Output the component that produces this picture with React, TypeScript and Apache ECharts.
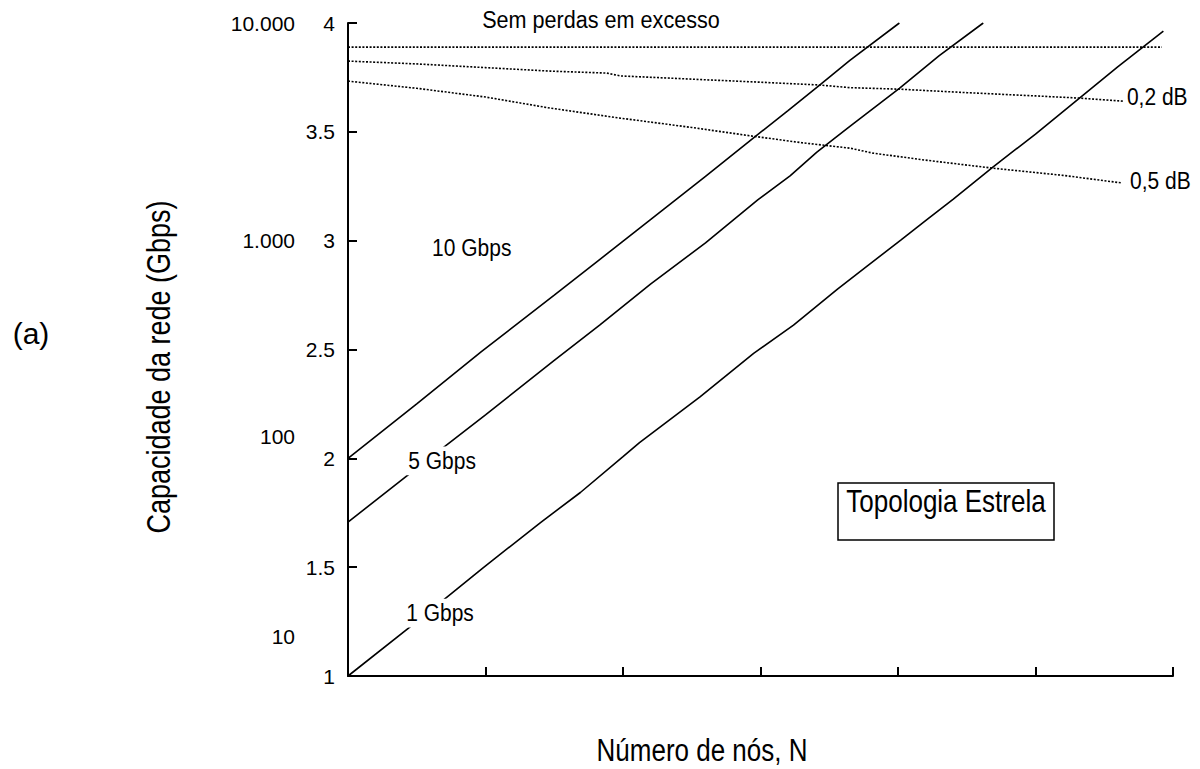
import React, { useEffect, useRef } from 'react';
import * as echarts from 'echarts';

const FONT = '"Liberation Sans", Arial, Helvetica, sans-serif';

// y axis: log10 of network capacity (Gbps); x axis: number of nodes (no labels)
const yTickValues = [1, 1.5, 2, 2.5, 3, 3.5, 4];
const logLabels = ['10.000', '1.000', '100', '10'];
const logLabelValues = [4, 3, 2.1, 1.18];

const gbps1X = [0, 0.5, 0.98, 1.4, 1.69, 2.0, 2.12, 2.56, 2.95, 3.24, 3.56, 3.78, 4.02, 4.21, 4.4, 4.69, 5.0, 5.32, 5.6, 5.93];
const gbps1Y = [1.0, 1.25, 1.496, 1.705, 1.843, 2.008, 2.072, 2.282, 2.482, 2.612, 2.777, 2.885, 3.003, 3.097, 3.19, 3.338, 3.49, 3.655, 3.8, 3.963];

const gbps5X = [0, 0.5, 1.0, 1.5, 1.83, 2.2, 2.6, 2.98, 3.215, 3.41, 3.65, 4.01, 4.3, 4.62];
const gbps5Y = [1.707, 1.955, 2.2, 2.45, 2.612, 2.8, 2.99, 3.187, 3.298, 3.407, 3.525, 3.7, 3.85, 4.0];

const gbps10X = [0, 0.5, 0.97, 1.5, 1.83, 2.2, 2.6, 2.945, 3.2, 3.43, 3.65, 4.01];
const gbps10Y = [2.0, 2.25, 2.49, 2.75, 2.913, 3.097, 3.295, 3.47, 3.598, 3.715, 3.828, 4.0];

const lossNoneX = [0, 5.92];
const lossNoneY = [3.889, 3.889];

const loss02X = [0, 0.5, 1.0, 1.47, 1.88, 1.98, 2.5, 3.0, 3.43, 3.65, 4.01, 4.5, 5.0, 5.32, 5.64];
const loss02Y = [3.825, 3.812, 3.795, 3.779, 3.77, 3.757, 3.742, 3.728, 3.715, 3.703, 3.696, 3.68, 3.665, 3.655, 3.641];

const loss05X = [0, 0.5, 1.0, 1.47, 1.98, 2.5, 2.945, 3.3, 3.65, 3.82, 4.2, 4.69, 5.2, 5.63];
const loss05Y = [3.733, 3.7, 3.66, 3.609, 3.563, 3.52, 3.48, 3.45, 3.425, 3.402, 3.37, 3.333, 3.3, 3.265];

const annotations = [
  { text: 'Sem perdas em excesso', x: 1.84, y: 4.018, align: 'center', bg: false },
  { text: '0,2 dB', x: 5.665, y: 3.66, align: 'left', bg: false },
  { text: '0,5 dB', x: 5.687, y: 3.274, align: 'left', bg: false },
  { text: '10 Gbps', x: 0.9, y: 2.966, align: 'center', bg: false },
  { text: '5 Gbps', x: 0.684, y: 1.988, align: 'center', bg: true },
  { text: '1 Gbps', x: 0.669, y: 1.289, align: 'center', bg: true },
];

const pairs = (xs: number[], ys: number[]) => xs.map((x, i) => [x, ys[i]]);

export default function App() {
  const ref = useRef<HTMLDivElement>(null);
  useEffect(() => {
    const chart = echarts.init(ref.current!, null, { renderer: 'svg' });
    const solid = (name: string, xs: number[], ys: number[]) => ({
      type: 'line', name, data: pairs(xs, ys), symbol: 'none', silent: true,
      lineStyle: { color: '#000', width: 1.6 },
    });
    const dotted = (name: string, xs: number[], ys: number[]) => ({
      type: 'line', name, data: pairs(xs, ys), symbol: 'none', silent: true,
      lineStyle: { color: '#000', width: 1.6, type: [2, 1.6] },
    });
    chart.setOption({
      animation: false,
      backgroundColor: '#fff',
      grid: { left: 348, top: 23, width: 825, height: 653 },
      xAxis: {
        type: 'value', min: 0, max: 6, interval: 1,
        axisLine: { lineStyle: { color: '#000', width: 2 } },
        axisTick: { show: true, inside: true, length: 9, lineStyle: { color: '#000', width: 2 } },
        axisLabel: { show: false },
        splitLine: { show: false },
      },
      yAxis: {
        type: 'value', min: 1, max: 4, interval: 0.5,
        axisLine: { show: true, lineStyle: { color: '#000', width: 2 } },
        axisTick: { show: true, inside: true, length: 9, lineStyle: { color: '#000', width: 2 } },
        axisLabel: {
          color: '#000', fontSize: 21, fontFamily: FONT, margin: 13,
          formatter: (v: number) => (yTickValues.includes(v) ? String(v) : ''),
        },
        splitLine: { show: false },
      },
      series: [
        solid('1 Gbps', gbps1X, gbps1Y),
        solid('5 Gbps', gbps5X, gbps5Y),
        solid('10 Gbps', gbps10X, gbps10Y),
        dotted('Sem perdas', lossNoneX, lossNoneY),
        dotted('0,2 dB', loss02X, loss02Y),
        dotted('0,5 dB', loss05X, loss05Y),
      ],
    });

    const px = (x: number, y: number) => chart.convertToPixel({ gridIndex: 0 }, [x, y]) as number[];
    const textEl = (text: string, x: number, y: number, size: number, align: string, extra: any = {}, styleExtra: any = {}) => ({
      type: 'text', x, y, z: 100, ...extra,
      style: {
        text, fontSize: size, fontFamily: FONT, fill: '#000',
        align, verticalAlign: 'middle', textAlign: align, textVerticalAlign: 'middle',
        ...styleExtra,
      },
    });

    const elements: any[] = [];
    logLabels.forEach((t, i) => {
      const p = px(0, logLabelValues[i]);
      elements.push(textEl(t, 295, p[1], 21, 'right'));
    });
    annotations.forEach((a) => {
      const p = px(a.x, a.y);
      const size = a.text.length > 10 ? 21.6 : 21;
      elements.push(textEl(a.text, p[0], p[1], size, a.align, { scaleY: 1.15 },
        a.bg ? { backgroundColor: '#fff', padding: [2, 2] } : {}));
    });
    elements.push(textEl('Capacidade da rede (Gbps)', 159, 367, 27, 'center', { rotation: Math.PI / 2, scaleY: 1.2 }));
    elements.push(textEl('Número de nós, N', 702, 750, 26, 'center', { scaleY: 1.2 }));
    elements.push(textEl('(a)', 31, 333, 30, 'center'));
    elements.push({
      type: 'rect', z: 100, shape: { x: 838, y: 483, width: 216, height: 57 },
      style: { fill: '#fff', stroke: '#000', lineWidth: 1.5 },
    });
    elements.push(textEl('Topologia Estrela', 946, 501, 26, 'center', { scaleY: 1.23, z: 101 }));

    chart.setOption({ graphic: { elements } });
    return () => chart.dispose();
  }, []);
  return <div ref={ref} style={{ position: 'absolute', left: 0, top: 0, width: 1200, height: 769 }} />;
}
